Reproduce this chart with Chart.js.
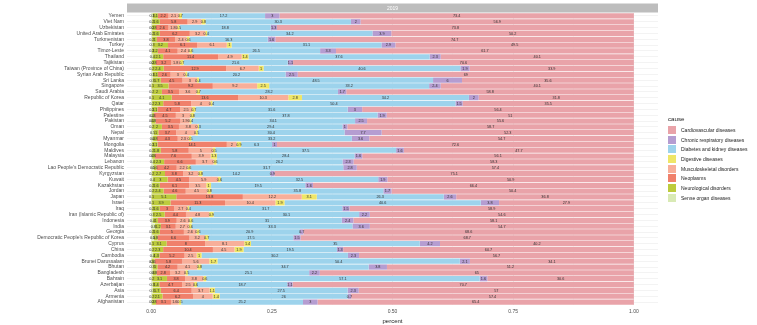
<!DOCTYPE html>
<html>
<head>
<meta charset="utf-8">
<script src="https://cdn.jsdelivr.net/npm/chart.js@4.4.1/dist/chart.umd.min.js"></script>
<style>
  html, body { margin: 0; padding: 0; background: #fff; }
  #wrap { position: relative; width: 757px; height: 325px; }
  #legend { position: absolute; left: 668px; top: 0; font-family: "Liberation Sans", Arial, sans-serif; color: #222; }
  #legend .title { position: absolute; left: 0; top: 115px; font-size: 6.2px; white-space: nowrap; }
  #legend .item { position: absolute; left: 0; white-space: nowrap; font-size: 5px; line-height: 8px; height: 8px; }
  #legend .sw { position: absolute; left: 0; top: 0; width: 8px; height: 8px; }
  #legend .txt { position: absolute; left: 13px; top: 0; }
</style>
</head>
<body>
<div id="wrap">
  <canvas id="chart" width="757" height="325"></canvas>
  <div id="legend"></div>
</div>
<script>
const year = '2019';
const countries = ['Yemen', 'Viet Nam', 'Uzbekistan', 'United Arab Emirates', 'Turkmenistan', 'Turkey', 'Timor-Leste',
  'Thailand', 'Tajikistan', 'Taiwan (Province of China)', 'Syrian Arab Republic', 'Sri Lanka', 'Singapore',
  'Saudi Arabia', 'Republic of Korea', 'Qatar', 'Philippines', 'Palestine', 'Pakistan', 'Oman', 'Nepal', 'Myanmar',
  'Mongolia', 'Maldives', 'Malaysia', 'Lebanon', "Lao People's Democratic Republic", 'Kyrgyzstan', 'Kuwait',
  'Kazakhstan', 'Jordan', 'Japan', 'Israel', 'Iraq', 'Iran (Islamic Republic of)', 'Indonesia', 'India', 'Georgia',
  "Democratic People's Republic of Korea", 'Cyprus', 'China', 'Cambodia', 'Brunei Darussalam', 'Bhutan',
  'Bangladesh', 'Bahrain', 'Azerbaijan', 'Asia', 'Armenia', 'Afghanistan'];

const causes = ['Cardiovascular diseases', 'Chronic respiratory diseases', 'Diabetes and kidney diseases',
  'Digestive diseases', 'Musculoskeletal disorders', 'Neoplasms', 'Neurological disorders', 'Sense organ diseases'];
const causeColors = ['#E9A3A9', '#B59DD1', '#9DD3EC', '#EFE667', '#F8AF9A', '#F0806B', '#BDCB3C', '#D9EAB5'];

const cardiovascular = [73.4, 56.9, 73.8, 50.2, 74.7, 49.5, 61.7, 40.1, 70.6, 33.9, 69, 35.6, 40.1, 58.8, 31.8,
  35.5, 56.4, 51, 55.6, 58.7, 52.3, 54.7, 72.6, 47.7, 56.1, 58.3, 57.4, 75.1, 50.9, 66.4, 50.4, 36.8, 27.9, 58.9,
  54.6, 58.1, 54.7, 68.6, 68.7, 40.2, 60.7, 56.7, 34.1, 51.2, 65, 30.6, 70.7, 57, 57.4, 65.4];
const respiratory = [3, 2, 1.3, 3.9, 1.6, 2.9, 3.3, 2.3, 1.1, 1.9, 2.5, 6, 2.4, 1.7, 2, 1.5, 3, 1.9, 2.5, 1, 7.7,
  3.6, 1, 1.6, 1.6, 2.3, 2.8, 0.9, 1.9, 1.6, 1.7, 2.6, 3.8, 1.5, 2.2, 2.4, 3.6, 0.7, 1.5, 4.2, 1.3, 2.3, 2.1, 3.8,
  2.2, 1.6, 1.1, 2.3, 0.7, 3];
const diabetes = [17.2, 30.3, 18.8, 34.2, 16.3, 31.1, 26.5, 37.6, 21.6, 40.6, 20.2, 48.5, 33.2, 28.2, 34.2, 50.4,
  31.6, 37.8, 34.1, 29.4, 30.4, 33.2, 6.3, 37.5, 28.4, 26.2, 31.7, 14.2, 32.5, 19.5, 35.8, 26.3, 40.6, 31.7, 30.1,
  31, 33.3, 20.9, 17.5, 35, 19.5, 30.2, 50.4, 34.7, 25.1, 57.1, 18.7, 27.5, 26, 25.2];
const digestive = [0.7, 0.8, 0.5, 0.4, 0.6, 1, 0.6, 1.4, 0.7, 1, 0.4, 0.4, 2.5, 0.7, 2.8, 0.4, 0.7, 0.8, 0.4, 0.3,
  0.5, 0.5, 0.9, 0.5, 1.3, 0.6, 0.6, 0.8, 0.6, 1, 0.8, 3.1, 1.9, 0.4, 0.9, 0.6, 0.6, 0.6, 0.7, 1.4, 1.9, 1, 1.7,
  0.8, 0.5, 0.6, 0.6, 1.1, 1.4, 0.5];
const musculoskeletal = [2.1, 2.9, 1.8, 3.2, 2.4, 6.1, 2.4, 4.9, 1.8, 6.7, 3, 3, 9.2, 3.6, 10.3, 4, 2.5, 3, 1.9,
  3.8, 4, 2.3, 2, 5, 3.9, 3.7, 2.2, 3.2, 5.9, 3.5, 4.5, 12.2, 10.4, 2.7, 4.8, 2.6, 2.7, 2.6, 3.2, 8.1, 4.5, 2.5,
  5.6, 4.1, 3.2, 3.8, 2.5, 3.7, 4, 1.6];
const neoplasms = [2.2, 5.8, 2.6, 6.2, 3.8, 6.1, 4.1, 11.4, 3.2, 12.9, 2.6, 4.5, 9.2, 3.5, 13.6, 5.8, 4.7, 4.5, 5.2,
  3.5, 3.7, 4.3, 14.1, 5.8, 7.6, 6.6, 4.2, 3.8, 4.5, 6.1, 4.6, 13.8, 11.3, 3, 4.4, 3.9, 3.1, 5, 6.6, 8, 10.4, 5.2,
  5.8, 4.2, 2.8, 3.8, 4.7, 6.4, 6.2, 3.1];
const neurological = [1.1, 1.6, 0.8, 1.6, 1, 3.2, 1.2, 2.1, 0.8, 2.4, 1.1, 1.7, 3.5, 2, 4.1, 2.3, 1.1, 0.4, 0.8, 2,
  1, 0.8, 1.1, 1.8, 0.6, 2.3, 0.6, 2.7, 3, 1.6, 2.4, 5.1, 3.9, 1.6, 2.5, 1, 1.2, 1.6, 0.8, 3.1, 2.3, 1.3, 0.6, 1,
  0.8, 3.1, 1.4, 1.7, 2.1, 0.8];
const senseOrgan = [0.3, 0.2, 0.2, 0.2, 0.2, 0.3, 0.2, 0.4, 0.2, 0.2, 0.3, 0.3, 0.1, 0.2, 0.1, 0.2, 0.2, 0.2, 0.1,
  0.2, 0.5, 0.4, 0.2, 0.2, 0.2, 0.4, 0.5, 0.2, 0.4, 0.2, 0.2, 0.1, 0.1, 0.2, 0.3, 0.4, 0.8, 0.2, 0.5, 0.1, 0.2, 0.4,
  0.1, 0.3, 0.3, 0.2, 0.3, 0.3, 0.2, 0.2];

const xTicks = [0, 0.25, 0.5, 0.75, 1];
const xMinor = [0.125, 0.375, 0.625, 0.875];

// same order as causes (legend order); bars stack the other way round
const series = [cardiovascular, respiratory, diabetes, digestive, musculoskeletal, neoplasms, neurological, senseOrgan];
const totals = countries.map((c, j) => series.reduce((s, arr) => s + arr[j], 0));

const FONT = '"Liberation Sans", Arial, sans-serif';

const datasets = causes.map((cause, i) => ({
  label: cause,
  data: series[i].map((v, j) => v / totals[j]),
  raw: series[i],
  backgroundColor: causeColors[i],
  borderWidth: 0,
  barPercentage: 0.9,
  categoryPercentage: 1
})).reverse();

const stripPlugin = {
  id: 'strip',
  beforeDraw(chart) {
    const { ctx, chartArea } = chart;
    ctx.save();
    ctx.fillStyle = '#BDBDBD';
    ctx.fillRect(chartArea.left, 3.5, chartArea.right - chartArea.left, chartArea.top - 4);
    ctx.fillStyle = '#ffffff';
    ctx.font = '5px ' + FONT;
    ctx.textAlign = 'center';
    ctx.textBaseline = 'middle';
    ctx.fillText(year, (chartArea.left + chartArea.right) / 2, (3.5 + chartArea.top) / 2);
    ctx.restore();
  }
};

const segmentLabels = {
  id: 'segmentLabels',
  afterDatasetsDraw(chart) {
    const ctx = chart.ctx;
    ctx.save();
    ctx.font = '3.8px ' + FONT;
    ctx.fillStyle = '#333';
    ctx.textAlign = 'center';
    ctx.textBaseline = 'middle';
    chart.data.datasets.forEach((ds, i) => {
      chart.getDatasetMeta(i).data.forEach((bar, j) => {
        const p = bar.getProps(['x', 'base', 'y'], true);
        ctx.fillText(String(ds.raw[j]), (p.x + p.base) / 2, p.y + 0.3);
      });
    });
    ctx.restore();
  }
};

new Chart(document.getElementById('chart'), {
  type: 'bar',
  data: { labels: countries, datasets: datasets },
  options: {
    indexAxis: 'y',
    responsive: false,
    animation: false,
    layout: { padding: { left: 0, right: 99, top: 13, bottom: 0 } },
    plugins: { legend: { display: false }, tooltip: { enabled: false } },
    scales: {
      x: {
        stacked: true,
        min: -0.05,
        max: 1.05,
        afterBuildTicks: (scale) => {
          scale.ticks = xTicks.concat(xMinor).sort((a, b) => a - b).map(v => ({ value: v }));
        },
        afterFit: (scale) => { scale.height = 20; },
        border: { display: false },
        grid: {
          drawTicks: false,
          color: (c) => xTicks.includes(c.tick.value) ? '#E6E6E6' : '#F2F2F2',
          lineWidth: (c) => xTicks.includes(c.tick.value) ? 0.8 : 0.5
        },
        ticks: {
          padding: 4,
          color: '#4D4D4D',
          font: { family: FONT, size: 5 },
          callback: (v) => xTicks.includes(v) ? v.toFixed(2) : ''
        },
        title: {
          display: true,
          text: 'percent',
          color: '#222',
          padding: { top: 0, bottom: 0 },
          font: { family: FONT, size: 6 }
        }
      },
      y: {
        stacked: true,
        afterFit: (scale) => { scale.width = 127; },
        border: { display: false },
        grid: { drawTicks: false, offset: false, color: '#EBEBEB', lineWidth: 0.6 },
        ticks: {
          autoSkip: false,
          padding: 3,
          color: '#4D4D4D',
          font: { family: FONT, size: 5 }
        }
      }
    }
  },
  plugins: [stripPlugin, segmentLabels]
});

// legend, built from the cause names and colours
const legend = document.getElementById('legend');
const title = document.createElement('div');
title.className = 'title';
title.textContent = 'cause';
legend.appendChild(title);
causes.forEach((cause, i) => {
  const item = document.createElement('div');
  item.className = 'item';
  item.style.top = (126 + i * 9.65) + 'px';
  const sw = document.createElement('div');
  sw.className = 'sw';
  sw.style.background = causeColors[i];
  const txt = document.createElement('div');
  txt.className = 'txt';
  txt.textContent = cause;
  item.appendChild(sw);
  item.appendChild(txt);
  legend.appendChild(item);
});
</script>
</body>
</html>
